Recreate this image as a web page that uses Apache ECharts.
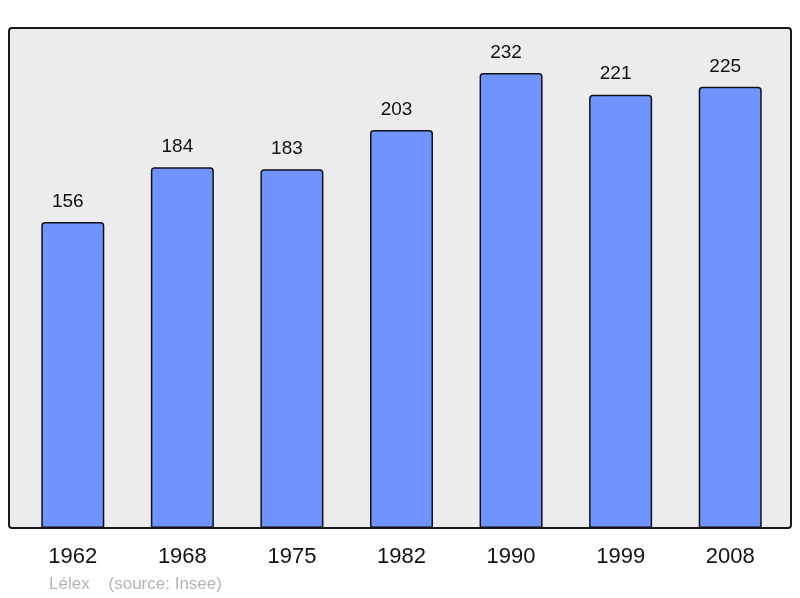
<!DOCTYPE html>
<html>
<head>
<meta charset="utf-8">
<script src="https://cdn.jsdelivr.net/npm/echarts@6/dist/echarts.min.js"></script>
<style>html,body{margin:0;padding:0;background:#fff}#c{width:800px;height:598px}</style>
</head>
<body>
<div id="c"></div>
<script>
const years = ['1962','1968','1975','1982','1990','1999','2008'];
const population = [156,184,183,203,232,221,225];
const sourceText = 'Lélex    (source: Insee)';

const chart = echarts.init(document.getElementById('c'), null, {renderer:'canvas'});
chart.setOption({
  animation:false,
  backgroundColor:'#fff',
  graphic:[
    {type:'rect', z:-10, shape:{x:9,y:28,width:782,height:500,r:3},
     style:{fill:'#ececec', stroke:'#1a1a1a', lineWidth:2}},
    {type:'text', left:49, top:576, style:{text:sourceText, fill:'#b4b4b4', font:'17px "Liberation Sans", Arial, sans-serif'}}
  ],
  grid:{left:18, right:15, top:28, bottom:70},
  xAxis:{type:'category', data:years,
    axisLine:{show:false}, axisTick:{show:false},
    axisLabel:{color:'#111', fontSize:22, fontFamily:'"Liberation Sans", Arial, sans-serif', margin:18}},
  yAxis:{type:'value', min:0, max:255, show:false, splitLine:{show:false}},
  series:[{type:'bar', data:population, barWidth:63,
    itemStyle:{color:'#7094ff', borderColor:'#111', borderWidth:1.5, borderRadius:[3,3,0,0]},
    label:{show:true, position:'top', distance:11, offset:[-5,0], color:'#111', fontSize:19, fontFamily:'"Liberation Sans", Arial, sans-serif'}}]
});
</script>
</body>
</html>
